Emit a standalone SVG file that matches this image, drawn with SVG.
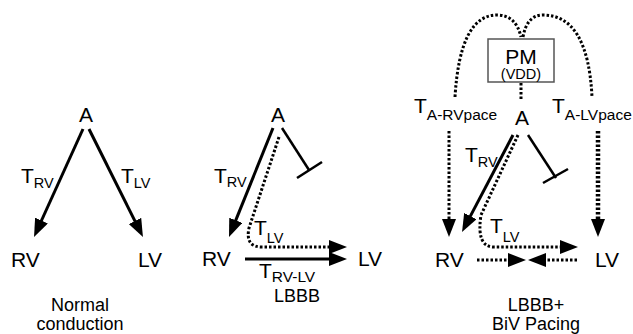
<svg xmlns="http://www.w3.org/2000/svg" width="633" height="334" viewBox="0 0 633 334">
<style>
text{font-family:"Liberation Sans",Arial,sans-serif;fill:#000}
.lbl{font-size:21px}
.sub{font-size:14.5px}
.sub2{font-size:15.5px}
.cap{font-size:18px}
.solid{fill:none;stroke:#000;stroke-width:3}
.dot{fill:none;stroke:#000;stroke-width:3;stroke-dasharray:2.5 2}
.dotw{fill:none;stroke:#000;stroke-width:4.5;stroke-dasharray:2.5 2}
.bar{fill:none;stroke:#000;stroke-width:2.5}
</style>
<defs>
<marker id="ah" markerUnits="userSpaceOnUse" markerWidth="18" markerHeight="14" refX="6" refY="7" orient="auto">
<path d="M0,0 L18,7 L0,14 z" fill="#000" stroke="none"/>
</marker>
</defs>
<rect width="633" height="334" fill="#fff"/>

<g id="connectors">
<!-- panel 1 -->
<line class="solid" x1="83" y1="129" x2="39" y2="226" marker-end="url(#ah)"/>
<line class="solid" x1="89" y1="129" x2="137.6" y2="226.3" marker-end="url(#ah)"/>
<!-- panel 2 -->
<line class="solid" x1="273" y1="128" x2="233.5" y2="225.9" marker-end="url(#ah)"/>
<line class="solid" x1="245" y1="259" x2="335" y2="259" marker-end="url(#ah)"/>
<path class="dot" d="M279,137 L249,228 Q245,247 262,247 L335,247" marker-end="url(#ah)"/>
<line class="bar" x1="282" y1="128" x2="309" y2="170"/>
<line class="bar" x1="297" y1="178" x2="322" y2="162"/>
<!-- panel 3 -->
<path class="dot" d="M455,97 Q460,15 497,15 Q516,15 521,37"/>
<path class="dot" d="M523,37 Q527,15 543,15 Q588,15 592,97"/>
<line class="dot" x1="521" y1="83" x2="521" y2="99"/>
<line class="dot" x1="449" y1="131" x2="449" y2="225" marker-end="url(#ah)"/>
<line class="dotw" x1="598" y1="131" x2="598" y2="225" marker-end="url(#ah)"/>
<line class="solid" x1="513" y1="135" x2="467.6" y2="221.4" marker-end="url(#ah)"/>
<path class="dot" d="M518,135 L481,215 Q476,247 494,247 L566,247" marker-end="url(#ah)"/>
<line class="bar" x1="528" y1="135" x2="556" y2="178"/>
<line class="bar" x1="543" y1="183" x2="568" y2="169"/>
<line class="dot" x1="477" y1="260" x2="514" y2="260" marker-end="url(#ah)"/>
<line class="dot" x1="577" y1="260" x2="540" y2="260" marker-end="url(#ah)"/>
</g>

<g id="p1-A"><text class="lbl" x="86" y="122" text-anchor="middle">A</text></g>
<g id="p1-RV"><text class="lbl" x="11" y="267">RV</text></g>
<g id="p1-LV"><text class="lbl" x="138" y="267">LV</text></g>
<g id="p1-labels">
<text class="lbl" x="21" y="183">T<tspan class="sub" dy="5">RV</tspan></text>
<text class="lbl" x="121" y="183">T<tspan class="sub" dy="5">LV</tspan></text>
<text class="cap" x="80" y="311" text-anchor="middle">Normal</text>
<text class="cap" x="80" y="330" text-anchor="middle">conduction</text>
</g>

<g id="p2-A"><text class="lbl" x="278" y="122" text-anchor="middle">A</text></g>
<g id="p2-RV"><text class="lbl" x="202" y="266">RV</text></g>
<g id="p2-LV"><text class="lbl" x="358" y="266">LV</text></g>
<g id="p2-labels">
<text class="lbl" x="214" y="183">T<tspan class="sub" dy="4">RV</tspan></text>
<text class="lbl" x="254" y="235">T<tspan class="sub" dy="8">LV</tspan></text>
<text class="lbl" x="259" y="278">T<tspan class="sub2" dy="4">RV-LV</tspan></text>
<text class="cap" x="297" y="302" text-anchor="middle">LBBB</text>
</g>

<g id="p3-PM">
<rect x="488" y="39" width="66" height="43" fill="#fff" stroke="#555" stroke-width="1.5"/>
<text class="lbl" x="521" y="64" text-anchor="middle">PM</text>
<text class="sub" x="521" y="79" text-anchor="middle">(VDD)</text>
</g>
<g id="p3-A"><text class="lbl" x="522" y="125" text-anchor="middle">A</text></g>
<g id="p3-RV"><text class="lbl" x="435" y="267">RV</text></g>
<g id="p3-LV"><text class="lbl" x="595" y="267">LV</text></g>
<g id="p3-labels">
<text class="lbl" x="414" y="113">T<tspan class="sub2" dy="7">A-RVpace</tspan></text>
<text class="lbl" x="552" y="113">T<tspan class="sub2" dy="7">A-LVpace</tspan></text>
<text class="lbl" x="465" y="162">T<tspan class="sub" dy="5">RV</tspan></text>
<text class="lbl" x="490" y="233">T<tspan class="sub" dy="9">LV</tspan></text>
<text class="cap" x="536" y="311" text-anchor="middle">LBBB+</text>
<text class="cap" x="536" y="330" text-anchor="middle">BiV Pacing</text>
</g>
</svg>
